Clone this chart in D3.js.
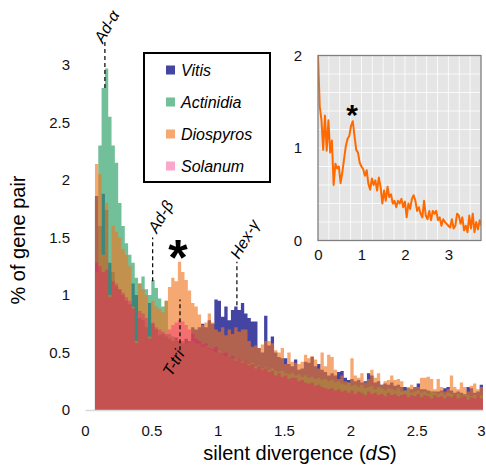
<!DOCTYPE html>
<html lang="en">
  <head>
    <meta charset="UTF-8" />
    <script src="https://d3js.org/d3.v7.min.js"></script>
    <title>dS distribution</title>
    <style>
      body {
        margin: 0;
        background: #fff;
      }
      svg text {
        font-family: "Liberation Sans", Arial, sans-serif;
      }
    </style>
  </head>
  <body>
    <svg id="chart" width="486" height="468"></svg>
    <script>
      // histogram bins: left edge of first bin and bin width (dS)
      const binStart = 0.075;
      const binWidth = 0.025;

      const vitis = [
        1.86, 1.6, 1.88, 1.74, 1.28, 1.2, 1.1, 1.05, 1.0, 0.95,
        0.92, 1.1, 1.0, 0.8, 0.78, 0.72, 0.93, 0.75, 0.7, 0.65,
        0.66, 0.64, 0.62, 0.6, 0.63, 0.6, 0.58, 0.62, 0.6, 0.72,
        0.7, 0.72, 0.75, 0.72, 0.78, 0.75, 0.96, 0.95, 0.81, 0.9,
        0.78, 0.87, 0.9, 0.87, 0.93, 0.84, 0.8, 0.77, 0.77, 0.54,
        0.5, 0.82, 0.56, 0.64, 0.5, 0.46, 0.45, 0.45, 0.4, 0.38,
        0.44, 0.35, 0.36, 0.42, 0.41, 0.46, 0.38, 0.4, 0.35, 0.33,
        0.3, 0.32, 0.3, 0.33, 0.34, 0.28, 0.26, 0.27, 0.25, 0.26,
        0.24, 0.25, 0.32, 0.3, 0.24, 0.25, 0.22, 0.23, 0.22, 0.24,
        0.21, 0.22, 0.2, 0.2, 0.19, 0.18, 0.2, 0.23, 0.18, 0.18,
        0.17, 0.16, 0.16, 0.16, 0.17, 0.19, 0.2, 0.17, 0.15, 0.16,
        0.15, 0.14, 0.2, 0.19, 0.15, 0.16, 0.22
      ];
      const actinidia = [
        1.2, 2.3, 2.8, 2.97, 2.55, 2.3, 2.15, 1.8, 1.6, 1.45,
        1.35, 1.28, 1.15, 1.1, 1.16, 1.05, 1.0, 1.13, 1.06, 0.97,
        0.9, 0.95, 0.66, 0.64, 0.62, 0.6, 0.6, 0.58, 0.6, 0.6,
        0.58, 0.57, 0.55, 0.56, 0.53, 0.52, 0.5, 0.51, 0.48, 0.47,
        0.46, 0.45, 0.44, 0.45, 0.42, 0.43, 0.4, 0.41, 0.38, 0.39,
        0.36, 0.37, 0.35, 0.36, 0.34, 0.33, 0.34, 0.32, 0.31, 0.32,
        0.3, 0.31, 0.29, 0.3, 0.28, 0.29, 0.27, 0.28, 0.26, 0.27,
        0.25, 0.26, 0.24, 0.25, 0.23, 0.22, 0.24, 0.21, 0.22, 0.2,
        0.22, 0.19, 0.2, 0.21, 0.18, 0.2, 0.19, 0.17, 0.19, 0.18,
        0.17, 0.19, 0.16, 0.17, 0.18, 0.15, 0.16, 0.17, 0.15, 0.16,
        0.14, 0.16, 0.15, 0.14, 0.15, 0.13, 0.15, 0.14, 0.13, 0.14,
        0.12, 0.14, 0.13, 0.12, 0.13, 0.12, 0.13
      ];
      const diospyros = [
        2.14, 2.05, 1.35, 1.8, 1.0, 1.6, 1.55, 1.5, 1.4, 1.35,
        1.25, 0.9, 0.6, 1.1, 1.05, 1.0, 0.64, 0.95, 0.9, 0.88,
        0.85, 0.95, 1.07, 1.15, 1.12, 1.29, 1.2, 1.13, 1.04, 0.93,
        0.9, 0.83, 0.74, 0.76, 0.84, 0.76, 0.7, 0.68, 0.72, 0.65,
        0.7, 0.66, 0.72, 0.68, 0.7, 0.7, 0.6, 0.55, 0.56, 0.54,
        0.57, 0.6, 0.6, 0.58, 0.52, 0.5, 0.54, 0.4, 0.5, 0.42,
        0.41, 0.4, 0.42, 0.48, 0.45, 0.47, 0.44, 0.36, 0.5, 0.38,
        0.48, 0.46, 0.35, 0.27, 0.3, 0.25, 0.24, 0.45, 0.3, 0.28,
        0.32, 0.24, 0.27, 0.35, 0.28, 0.32, 0.22, 0.25, 0.26, 0.3,
        0.26, 0.27, 0.25, 0.17, 0.2, 0.22, 0.2, 0.2, 0.28, 0.28,
        0.29, 0.27, 0.18, 0.27, 0.2, 0.16, 0.18, 0.3, 0.2, 0.18,
        0.24, 0.2, 0.16, 0.21, 0.23, 0.18, 0.2
      ];
      const solanum = [
        1.28, 1.25, 1.2, 1.22, 0.98, 1.12, 1.08, 1.05, 1.02, 0.98,
        0.95, 0.88, 0.58, 0.86, 0.84, 0.8, 0.62, 0.76, 0.72, 0.7,
        0.68, 0.66, 0.7, 0.74, 0.76, 0.78, 0.77, 0.74, 0.7, 0.66,
        0.62, 0.6, 0.57, 0.58, 0.54, 0.53, 0.55, 0.5, 0.49, 0.5,
        0.46, 0.47, 0.43, 0.45, 0.41, 0.43, 0.39, 0.4, 0.36, 0.38,
        0.35, 0.36, 0.33, 0.34, 0.3, 0.32, 0.29, 0.3, 0.27, 0.28,
        0.28, 0.25, 0.26, 0.24, 0.23, 0.24, 0.21, 0.22, 0.2, 0.19,
        0.18, 0.19, 0.17, 0.18, 0.16, 0.17, 0.15, 0.17, 0.14, 0.16,
        0.15, 0.13, 0.16, 0.14, 0.15, 0.13, 0.14, 0.12, 0.15, 0.13,
        0.14, 0.12, 0.13, 0.14, 0.11, 0.13, 0.12, 0.14, 0.11, 0.13,
        0.12, 0.1, 0.13, 0.11, 0.12, 0.1, 0.12, 0.11, 0.13, 0.1,
        0.11, 0.12, 0.09, 0.11, 0.1, 0.12, 0.1
      ];

      // inset: all species together, sampled every 0.04 dS
      const insetStep = 0.04;
      const insetPct = [
        2.0, 1.45, 1.3, 0.98, 1.35, 0.97, 1.3, 0.95, 1.08, 0.6,
        0.83, 0.78, 0.8, 0.62, 0.74, 0.88, 1.02, 1.1, 1.13, 1.24,
        1.29, 1.13, 0.98, 0.95, 0.84, 0.8, 0.77, 0.7, 0.76, 0.61,
        0.55, 0.67, 0.6, 0.65, 0.54, 0.68, 0.58, 0.4, 0.54, 0.43,
        0.58, 0.47, 0.5, 0.4, 0.43, 0.36, 0.43, 0.4, 0.45, 0.36,
        0.42, 0.25, 0.4, 0.34, 0.45, 0.49, 0.43, 0.32, 0.36, 0.29,
        0.25, 0.43, 0.27, 0.23, 0.32, 0.22, 0.32, 0.29, 0.32, 0.22,
        0.25, 0.16, 0.23, 0.2, 0.18, 0.16, 0.14, 0.23, 0.13, 0.16,
        0.29, 0.27, 0.18, 0.25, 0.11, 0.16, 0.09, 0.27, 0.13, 0.29,
        0.09, 0.2, 0.12, 0.22, 0.16
      ];

      const series = [
        { name: "Vitis", values: vitis, color: "#4444a3", opacity: 1 },
        { name: "Actinidia", values: actinidia, color: "#36a56f", opacity: 0.7 },
        { name: "Diospyros", values: diospyros, color: "#f07520", opacity: 0.63 },
        { name: "Solanum", values: solanum, color: "#ed066d", opacity: 0.35 }
      ];

      const xTicks = [0, 0.5, 1, 1.5, 2, 2.5, 3];
      const yTicks = [0, 0.5, 1, 1.5, 2, 2.5, 3];
      const insetXTicks = [0, 1, 2, 3];
      const insetYTicks = [0, 1, 2];

      const svg = d3.select("#chart");

      const x = d3.scaleLinear().domain([0, 3]).range([85, 483]);
      const y = d3.scaleLinear().domain([0, 3]).range([410, 65]);

      // step areas, one per species, so bars of a series do not overlap
      const area = d3
        .area()
        .curve(d3.curveStepAfter)
        .x(d => x(d[0]))
        .y0(y(0))
        .y1(d => y(d[1]));

      function binPoints(values) {
        const pts = values.map((v, i) => [binStart + i * binWidth, v]);
        pts.push([binStart + values.length * binWidth, values[values.length - 1]]);
        return pts;
      }

      svg.append("g")
        .selectAll("path")
        .data(series)
        .join("path")
        .attr("d", d => area(binPoints(d.values)))
        .attr("fill", d => d.color)
        .attr("fill-opacity", d => d.opacity);

      // axes
      const xAxis = svg.append("g")
        .attr("transform", `translate(0,${y(0)})`)
        .call(d3.axisBottom(x).tickValues(xTicks).tickSize(0).tickPadding(15).tickFormat(d3.format("")));
      xAxis.select(".domain").attr("stroke", "#d9d9d9").attr("stroke-width", 1.3);
      xAxis.selectAll("text").attr("font-size", 15).attr("fill", "#111");
      // last label sits on the right edge of the picture
      xAxis.selectAll("text").filter(d => d === 3).attr("dx", -2);

      const yAxis = svg.append("g")
        .attr("transform", "translate(74,0)")
        .call(d3.axisLeft(y).tickValues(yTicks).tickSize(0).tickPadding(4).tickFormat(d3.format("")));
      yAxis.select(".domain").remove();
      yAxis.selectAll("text").attr("font-size", 15).attr("fill", "#111");

      const xTitle = svg.append("text")
        .attr("x", 300)
        .attr("y", 460)
        .attr("text-anchor", "middle")
        .attr("font-size", 20);
      xTitle.append("tspan").text("silent divergence (");
      xTitle.append("tspan").attr("font-style", "italic").text("dS");
      xTitle.append("tspan").text(")");

      svg.append("text")
        .attr("transform", "translate(25,240) rotate(-90)")
        .attr("text-anchor", "middle")
        .attr("font-size", 20)
        .text("% of gene pair");

      // duplication event markers
      const events = [
        { label: "Ad-\u03b1", ds: 0.15, from: 2.8, to: 3.2, anchor: "start", tx: 103, ty: 44 },
        { label: "Ad-\u03b2", ds: 0.51, from: 1.12, to: 1.5, anchor: "start", tx: 157, ty: 234 },
        { label: "Hex-\u03b3", ds: 1.145, from: 0.91, to: 1.29, anchor: "start", tx: 239, ty: 260 },
        { label: "T-tri", ds: 0.716, from: 0.52, to: 0.96, anchor: "end", tx: 185, ty: 354 }
      ];

      svg.append("g")
        .selectAll("line")
        .data(events)
        .join("line")
        .attr("x1", d => x(d.ds))
        .attr("x2", d => x(d.ds))
        .attr("y1", d => y(d.from))
        .attr("y2", d => y(d.to))
        .attr("stroke", "#000")
        .attr("stroke-width", 1.2)
        .attr("stroke-dasharray", "4,3");

      svg.append("g")
        .selectAll("text")
        .data(events)
        .join("text")
        .attr("transform", d => `translate(${d.tx},${d.ty}) rotate(-60)`)
        .attr("text-anchor", d => d.anchor)
        .attr("font-size", 16)
        .attr("font-style", "italic")
        .text(d => d.label);

      svg.append("text")
        .attr("x", 178)
        .attr("y", 275)
        .attr("text-anchor", "middle")
        .attr("font-size", 50)
        .attr("font-weight", "bold")
        .text("*");

      // legend
      const legend = svg.append("g");
      legend.append("rect")
        .attr("x", 144).attr("y", 53)
        .attr("width", 126).attr("height", 129)
        .attr("fill", "#fff")
        .attr("stroke", "#000")
        .attr("stroke-width", 2);
      const item = legend.selectAll("g.item")
        .data(series)
        .join("g")
        .attr("class", "item")
        .attr("transform", (d, i) => `translate(0,${70 + i * 32})`);
      item.append("rect")
        .attr("x", 166).attr("y", -4.5)
        .attr("width", 9).attr("height", 9)
        .attr("fill", d => d.color)
        .attr("fill-opacity", d => d.opacity);
      item.append("text")
        .attr("x", 181)
        .attr("dy", "0.35em")
        .attr("font-size", 16)
        .attr("font-style", "italic")
        .text(d => d.name);

      // inset
      const ix = d3.scaleLinear().domain([0, 3.75]).range([318, 481]);
      const iy = d3.scaleLinear().domain([0, 2]).range([240.5, 55.5]);
      const inset = svg.append("g");

      inset.append("rect")
        .attr("x", ix(0)).attr("y", iy(2))
        .attr("width", ix(3.75) - ix(0)).attr("height", iy(0) - iy(2))
        .attr("fill", "#e5e5e5");

      inset.append("g")
        .selectAll("line")
        .data(d3.range(0.25, 3.75, 0.25))
        .join("line")
        .attr("x1", d => ix(d)).attr("x2", d => ix(d))
        .attr("y1", iy(0)).attr("y2", iy(2))
        .attr("stroke", "#fff").attr("stroke-width", 0.8);
      inset.append("g")
        .selectAll("line")
        .data(d3.range(0.2, 2, 0.2))
        .join("line")
        .attr("x1", ix(0)).attr("x2", ix(3.75))
        .attr("y1", d => iy(d)).attr("y2", d => iy(d))
        .attr("stroke", "#fff").attr("stroke-width", 0.8);

      svg.append("clipPath").attr("id", "insetClip")
        .append("rect")
        .attr("x", ix(0)).attr("y", iy(2))
        .attr("width", ix(3.75) - ix(0)).attr("height", iy(0) - iy(2));

      inset.append("path")
        .datum(insetPct)
        .attr("clip-path", "url(#insetClip)")
        .attr("fill", "none")
        .attr("stroke", "#ff6a00")
        .attr("stroke-width", 2)
        .attr("stroke-linejoin", "round")
        .attr("d", d3.line().x((d, i) => ix(i * insetStep)).y(d => iy(d)));

      inset.append("rect")
        .attr("x", ix(0)).attr("y", iy(2))
        .attr("width", ix(3.75) - ix(0)).attr("height", iy(0) - iy(2))
        .attr("fill", "none")
        .attr("stroke", "#7f7f7f")
        .attr("stroke-width", 1.3);

      const ixAxis = inset.append("g")
        .attr("transform", `translate(0,${iy(0)})`)
        .call(d3.axisBottom(ix).tickValues(insetXTicks).tickSize(0).tickPadding(9).tickFormat(d3.format("d")));
      ixAxis.select(".domain").remove();
      ixAxis.selectAll("text").attr("font-size", 15).attr("fill", "#111");

      const iyAxis = inset.append("g")
        .attr("transform", `translate(${ix(0)},0)`)
        .call(d3.axisLeft(iy).tickValues(insetYTicks).tickSize(0).tickPadding(16).tickFormat(d3.format("d")));
      iyAxis.select(".domain").remove();
      iyAxis.selectAll("text").attr("font-size", 15).attr("fill", "#111");

      inset.append("text")
        .attr("x", 352)
        .attr("y", 125)
        .attr("text-anchor", "middle")
        .attr("font-size", 30)
        .attr("font-weight", "bold")
        .text("*");
    </script>
  </body>
</html>
